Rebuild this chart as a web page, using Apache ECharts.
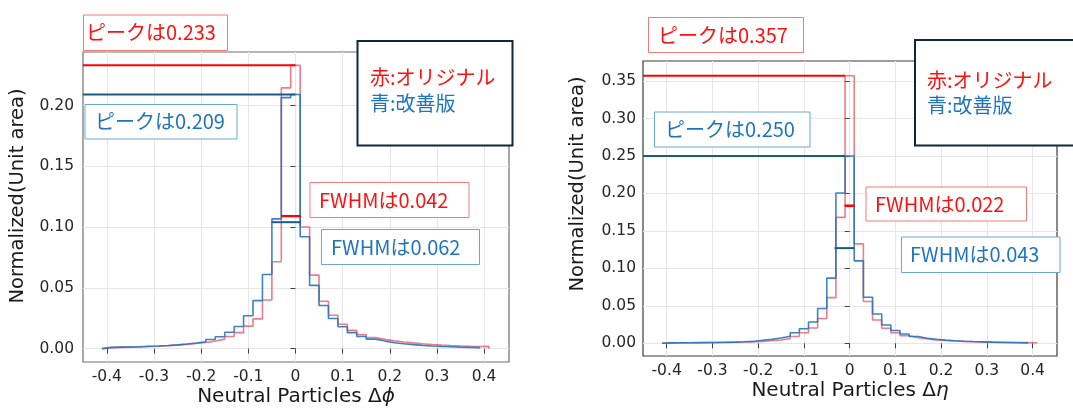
<!DOCTYPE html>
<html>
<head>
<meta charset="utf-8">
<script src="https://cdn.jsdelivr.net/npm/echarts@6/dist/echarts.min.js"></script>
<style>
  html, body { margin: 0; padding: 0; background: #ffffff; }
  #main { width: 1073px; height: 409px; }
</style>
</head>
<body>
<div id="main"></div>
<script>
// Histogram binning: 0.02 wide bins, first edge at -0.41
const binStart = -0.41;
const binWidth = 0.02;

// Δϕ, normalised to unit area (bin centres -0.40 ... 0.40)
const phiOriginal = [
  0.0008, 0.0010, 0.0012, 0.0014, 0.0017, 0.0020, 0.0024, 0.0029, 0.0035, 0.0042,
  0.0050, 0.0062, 0.0078, 0.0100, 0.0132, 0.0185, 0.0245, 0.0400, 0.0715, 0.2145,
  0.2330,
  0.1000, 0.0605, 0.0390, 0.0275, 0.0200, 0.0150, 0.0115, 0.0092, 0.0076, 0.0064,
  0.0055, 0.0047, 0.0040, 0.0034, 0.0029, 0.0025, 0.0022, 0.0019, 0.0017, 0.0020
];
// Δϕ, improved version (bin centres -0.40 ... 0.38)
const phiImproved = [
  0.0010, 0.0012, 0.0014, 0.0016, 0.0019, 0.0022, 0.0026, 0.0031, 0.0038, 0.0046,
  0.0056, 0.0075, 0.0098, 0.0135, 0.0182, 0.0270, 0.0395, 0.0610, 0.1067, 0.2065,
  0.2090,
  0.0920, 0.0520, 0.0355, 0.0248, 0.0180, 0.0132, 0.0100, 0.0078, 0.0062, 0.0048,
  0.0040, 0.0033, 0.0027, 0.0022, 0.0018, 0.0015, 0.0012, 0.0010, 0.0008
];
// Δη, original (bin centres -0.40 ... 0.40)
const etaOriginal = [
  0.0005, 0.0006, 0.0007, 0.0008, 0.0009, 0.0010, 0.0012, 0.0014, 0.0017, 0.0021,
  0.0026, 0.0033, 0.0045, 0.0062, 0.0090, 0.0140, 0.0205, 0.0330, 0.0610, 0.1680,
  0.3570,
  0.1327, 0.0557, 0.0310, 0.0200, 0.0140, 0.0100, 0.0075, 0.0058, 0.0045, 0.0037,
  0.0030, 0.0025, 0.0021, 0.0018, 0.0015, 0.0013, 0.0011, 0.0010, 0.0009, 0.0008
];
// Δη, improved version (bin centres -0.40 ... 0.38)
const etaImproved = [
  0.0006, 0.0007, 0.0008, 0.0009, 0.0010, 0.0011, 0.0013, 0.0016, 0.0020, 0.0025,
  0.0040, 0.0052, 0.0070, 0.0095, 0.0140, 0.0195, 0.0285, 0.0465, 0.0870, 0.2005,
  0.2500,
  0.1100, 0.0615, 0.0390, 0.0245, 0.0170, 0.0125, 0.0090, 0.0068, 0.0053, 0.0042,
  0.0034, 0.0028, 0.0023, 0.0019, 0.0015, 0.0012, 0.0010, 0.0008, 0.0006
];

// Axis ticks
const xTickValues = [-0.4, -0.3, -0.2, -0.1, 0, 0.1, 0.2, 0.3, 0.4];
const xTickLabels = ['-0.4', '-0.3', '-0.2', '-0.1', '0', '0.1', '0.2', '0.3', '0.4'];
const phiYTicks = [0, 0.05, 0.1, 0.15, 0.2];
const phiYLabels = ['0.00', '0.05', '0.10', '0.15', '0.20'];
const etaYTicks = [0, 0.05, 0.1, 0.15, 0.2, 0.25, 0.3, 0.35];
const etaYLabels = ['0.00', '0.05', '0.10', '0.15', '0.20', '0.25', '0.30', '0.35'];

// Peak heights and FWHM summaries: [original, improved]
const phiPeak = [0.233, 0.209];
const phiPeakAt = [0, 0];
const phiFwhm = [0.042, 0.062];
const phiFwhmLevel = [0.109, 0.104];
const phiFwhmFrom = [-0.03, -0.05];
const etaPeak = [0.357, 0.250];
const etaPeakAt = [-0.01, -0.01];
const etaFwhm = [0.022, 0.043];
const etaFwhmLevel = [0.1835, 0.127];
const etaFwhmFrom = [-0.011, -0.033];

const RED = '#ff1010';
const BLUE = '#1f74c0';
const JP = '"Noto Sans CJK JP", "Noto Sans", sans-serif';
const DV = '"DejaVu Sans", sans-serif';

function r4(v) { return Math.round(v * 10000) / 10000; }

// Step outline of a histogram (matplotlib histtype="step")
function stepPoints(values) {
  const pts = [[binStart, 0]];
  values.forEach((v, i) => {
    const a = r4(binStart + i * binWidth);
    const b = r4(a + binWidth);
    pts.push([a, v], [b, v]);
  });
  pts.push([r4(binStart + values.length * binWidth), 0]);
  return pts;
}

function lineSeries(idx, data, color, width, z) {
  return {
    type: 'line', xAxisIndex: idx, yAxisIndex: idx, data: data,
    symbol: 'none', showSymbol: false, silent: true, animation: false, z: z,
    lineStyle: { color: color, width: width }
  };
}

function panelSeries(idx, orig, impr, peak, peakAt, fwhm, fwhmLevel, fwhmFrom, xMin) {
  return [
    lineSeries(idx, stepPoints(orig), 'rgba(228, 44, 66, 0.62)', 1.6, 2),
    lineSeries(idx, stepPoints(impr), 'rgba(38, 118, 188, 0.9)', 1.6, 3),
    lineSeries(idx, [[xMin, peak[0]], [peakAt[0], peak[0]]], '#ff0000', 2, 4),
    lineSeries(idx, [[xMin, peak[1]], [peakAt[1], peak[1]]], '#1b5a85', 2, 4),
    lineSeries(idx, [[fwhmFrom[0], fwhmLevel[0]], [r4(fwhmFrom[0] + fwhm[0]), fwhmLevel[0]]], '#ff0000', 2.4, 5),
    lineSeries(idx, [[fwhmFrom[1], fwhmLevel[1]], [r4(fwhmFrom[1] + fwhm[1]), fwhmLevel[1]]], '#1b5a85', 2, 5)
  ];
}

function xAxisFor(idx, min, max) {
  return {
    type: 'value', gridIndex: idx, min: min, max: max,
    axisLine: { show: false },
    axisTick: { show: true, customValues: xTickValues, length: 5, lineStyle: { color: '#444', width: 1 } },
    splitLine: { show: true, lineStyle: { color: '#e6e6e6', width: 1 } },
    axisLabel: {
      customValues: xTickValues, margin: 7, color: '#262626', fontSize: 15.5, fontFamily: DV,
      formatter: v => xTickLabels[xTickValues.findIndex(t => Math.abs(t - v) < 1e-9)]
    }
  };
}

function yAxisFor(idx, min, max, ticks, labels, margin) {
  return {
    type: 'value', gridIndex: idx, min: min, max: max,
    axisLine: { show: false },
    axisTick: { show: true, customValues: ticks, length: 5, lineStyle: { color: '#444', width: 1 } },
    splitLine: { show: true, lineStyle: { color: '#e6e6e6', width: 1 } },
    axisLabel: {
      customValues: ticks, margin: margin, color: '#262626', fontSize: 15.5, fontFamily: DV,
      formatter: v => labels[ticks.findIndex(t => Math.abs(t - v) < 1e-9)]
    }
  };
}

function box(x, y, w, h, text, color, border, tx) {
  return [
    { type: 'rect', z: 100, shape: { x: x, y: y, width: w, height: h },
      style: { fill: '#ffffff', stroke: border, lineWidth: 1 } },
    { type: 'text', z: 101, x: tx, y: y + h / 2,
      style: { text: text, fill: color, font: '20px ' + JP, textAlign: 'left', textVerticalAlign: 'middle' } }
  ];
}

function legendBox(x, y, w, h, tx, ty1, ty2) {
  return [
    { type: 'rect', z: 100, shape: { x: x, y: y, width: w, height: h },
      style: { fill: '#ffffff', stroke: '#10293a', lineWidth: 2 } },
    { type: 'text', z: 101, x: tx, y: ty1,
      style: { text: '赤:オリジナル', fill: RED, font: '20px ' + JP, textVerticalAlign: 'middle' } },
    { type: 'text', z: 101, x: tx, y: ty2,
      style: { text: '青:改善版', fill: BLUE, font: '20px ' + JP, textVerticalAlign: 'middle' } }
  ];
}

const phiXMin = -0.4505, phiXMax = 0.4528;
const etaXMin = -0.4517, etaXMax = 0.4532;

const graphics = [].concat(
  // axis titles
  [
    { type: 'text', z: 50, x: 18, y: 196, rotation: Math.PI / 2,
      style: { text: 'Normalized(Unit area)', fill: '#1a1a1a', font: '19.5px ' + DV, textAlign: 'center', textVerticalAlign: 'middle' } },
    { type: 'text', z: 50, x: 578, y: 184, rotation: Math.PI / 2,
      style: { text: 'Normalized(Unit area)', fill: '#1a1a1a', font: '19.5px ' + DV, textAlign: 'center', textVerticalAlign: 'middle' } },
    { type: 'text', z: 50, x: 296, y: 397,
      style: { text: 'Neutral Particles Δ{i|ϕ}', fill: '#1a1a1a', font: '20px ' + DV, textAlign: 'center', textVerticalAlign: 'middle',
               rich: { i: { fontStyle: 'italic', fontSize: 20, fontFamily: 'DejaVu Sans', fill: '#1a1a1a' } } } },
    { type: 'text', z: 50, x: 850, y: 391,
      style: { text: 'Neutral Particles Δ{i|η}', fill: '#1a1a1a', font: '20px ' + DV, textAlign: 'center', textVerticalAlign: 'middle',
               rich: { i: { fontStyle: 'italic', fontSize: 20, fontFamily: 'DejaVu Sans', fill: '#1a1a1a' } } } }
  ],
  // Δϕ panel annotations
  box(83.5, 15, 144, 35.5, 'ピークは' + phiPeak[0].toFixed(3), RED, '#f07b7b', 86),
  box(85, 104.5, 152, 34.5, 'ピークは' + phiPeak[1].toFixed(3), BLUE, '#6aa6d6', 95),
  box(310, 182.5, 159, 35, 'FWHMは' + phiFwhm[0].toFixed(3), RED, '#f07b7b', 319),
  box(321.5, 229.5, 158, 35, 'FWHMは' + phiFwhm[1].toFixed(3), BLUE, '#6aa6d6', 331),
  legendBox(357.5, 41, 155, 104.5, 370, 77, 103),
  // Δη panel annotations
  box(648.5, 17.5, 155, 35, 'ピークは' + etaPeak[0].toFixed(3), RED, '#f07b7b', 658),
  box(654.5, 112, 155.5, 35, 'ピークは' + etaPeak[1].toFixed(3), BLUE, '#6aa6d6', 665),
  box(866, 187, 160.5, 34, 'FWHMは' + etaFwhm[0].toFixed(3), RED, '#f07b7b', 875),
  box(901.5, 237, 158.5, 35.5, 'FWHMは' + etaFwhm[1].toFixed(3), BLUE, '#6aa6d6', 910),
  legendBox(915, 40, 170, 105.5, 927, 80, 105)
);

const chart = echarts.init(document.getElementById('main'), null, { renderer: 'canvas' });
chart.setOption({
  animation: false,
  backgroundColor: '#ffffff',
  grid: [
    { left: 83, top: 52, width: 426, height: 310, show: true, borderColor: '#707070', borderWidth: 1.2, backgroundColor: 'transparent' },
    { left: 643, top: 61, width: 414, height: 295, show: true, borderColor: '#3c3c3c', borderWidth: 1.2, backgroundColor: 'transparent' }
  ],
  xAxis: [xAxisFor(0, phiXMin, phiXMax), xAxisFor(1, etaXMin, etaXMax)],
  yAxis: [
    yAxisFor(0, -0.011, 0.244, phiYTicks, phiYLabels, 9),
    yAxisFor(1, -0.01695, 0.3767, etaYTicks, etaYLabels, 7)
  ],
  series: [].concat(
    panelSeries(0, phiOriginal, phiImproved, phiPeak, phiPeakAt, phiFwhm, phiFwhmLevel, phiFwhmFrom, phiXMin),
    panelSeries(1, etaOriginal, etaImproved, etaPeak, etaPeakAt, etaFwhm, etaFwhmLevel, etaFwhmFrom, etaXMin)
  ),
  graphic: { elements: graphics }
});
</script>
</body>
</html>
